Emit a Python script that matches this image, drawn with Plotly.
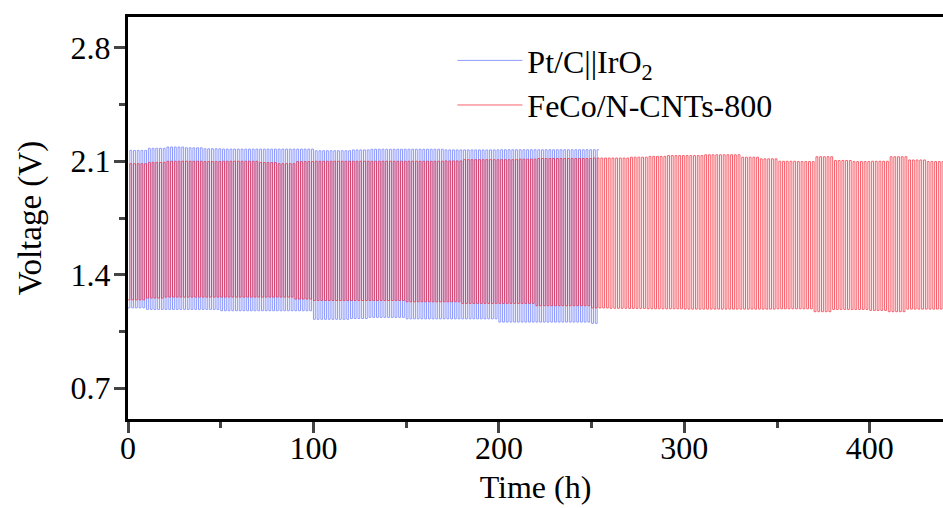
import plotly.graph_objects as go

# ---- data (per 10 h block, 2 h charge/discharge cycles) ----
series_names = ["Pt/C||IrO<sub>2</sub>", "FeCo/N-CNTs-800"]
block_hours = 10.0
cycle_hours = 2.0

# Pt/C||IrO2 : 0 - 254 h
pt_end_time = 254.0
pt_charge = [2.167, 2.180, 2.188, 2.183, 2.177, 2.175, 2.175, 2.175, 2.175, 2.175,
             2.165, 2.165, 2.170, 2.174, 2.174, 2.174, 2.174, 2.170, 2.170, 2.170,
             2.171, 2.171, 2.171, 2.171, 2.171, 2.171]
pt_discharge = [1.196, 1.186, 1.186, 1.186, 1.186, 1.178, 1.178, 1.178, 1.178, 1.178,
                1.125, 1.125, 1.130, 1.137, 1.137, 1.128, 1.128, 1.128, 1.128, 1.128,
                1.108, 1.108, 1.108, 1.108, 1.108, 1.100]

# FeCo/N-CNTs-800 : 0 - 440 h
feco_end_time = 440.0
feco_charge = [2.085, 2.093, 2.100, 2.100, 2.098, 2.100, 2.100, 2.092, 2.085, 2.098,
               2.100, 2.100, 2.100, 2.100, 2.100, 2.100, 2.100, 2.102, 2.110, 2.110,
               2.110, 2.113, 2.117, 2.117, 2.117, 2.120, 2.120, 2.125, 2.130, 2.135,
               2.135, 2.140, 2.140, 2.125, 2.115, 2.100, 2.098, 2.128, 2.105, 2.098,
               2.100, 2.128, 2.108, 2.098]
feco_discharge = [1.245, 1.256, 1.262, 1.262, 1.262, 1.262, 1.262, 1.262, 1.262, 1.250,
                  1.241, 1.241, 1.241, 1.241, 1.241, 1.233, 1.233, 1.233, 1.223, 1.223,
                  1.223, 1.223, 1.209, 1.209, 1.209, 1.195, 1.193, 1.192, 1.190, 1.190,
                  1.188, 1.188, 1.188, 1.188, 1.188, 1.190, 1.190, 1.172, 1.186, 1.186,
                  1.180, 1.172, 1.188, 1.188]

x_ticks = [0, 100, 200, 300, 400]
y_ticks = [0.7, 1.4, 2.1, 2.8]
y_tick_text = ["0.7", "1.4", "2.1", "2.8"]


def cycles(charge, discharge, t_end):
    xs, ys = [], []
    t = 0.0
    half = cycle_hours / 2
    while t < t_end - 1e-9:
        b = min(int(t // block_hours), len(charge) - 1)
        xs += [t, t + half, t + half, t + cycle_hours]
        ys += [discharge[b], discharge[b], charge[b], charge[b]]
        t += cycle_hours
    return xs, ys


pt_x, pt_y = cycles(pt_charge, pt_discharge, pt_end_time)
fe_x, fe_y = cycles(feco_charge, feco_discharge, feco_end_time)

font = "Liberation Serif, Times New Roman, serif"

fig = go.Figure()
fig.add_trace(go.Scatter(x=pt_x, y=pt_y, mode="lines", name=series_names[0],
                         line=dict(color="rgb(80,100,255)", width=1), opacity=0.65))
fig.add_trace(go.Scatter(x=fe_x, y=fe_y, mode="lines", name=series_names[1],
                         line=dict(color="rgb(245,35,50)", width=1), opacity=0.72))

fig.update_layout(
    width=943, height=508,
    margin=dict(l=128, r=0, t=17, b=89),
    plot_bgcolor="white", paper_bgcolor="white",
    font=dict(family=font, size=32, color="black"),
    showlegend=True,
    legend=dict(x=0.398, y=0.96, xanchor="left", yanchor="top",
                bgcolor="rgba(0,0,0,0)", font=dict(size=32, family=font),
                itemwidth=65, tracegroupgap=0),
    xaxis=dict(range=[0, 439.5], tickvals=x_ticks, ticks="outside", ticklen=11, tickwidth=3,
               showline=True, linewidth=3, linecolor="black", mirror=True,
               showgrid=False, zeroline=False, ticklabelstandoff=-12,
               minor=dict(ticks="outside", ticklen=6, tickwidth=3, dtick=50, tick0=0),
               title=dict(text="Time (h)", font=dict(size=32), standoff=11),
               automargin=False, tickfont=dict(size=32)),
    yaxis=dict(range=[0.51, 2.99], tickvals=y_ticks, ticktext=y_tick_text,
               ticks="outside", ticklen=11, tickwidth=3,
               showline=True, linewidth=3, linecolor="black", mirror=False,
               showgrid=False, zeroline=False, ticklabelstandoff=-3,
               minor=dict(ticks="outside", ticklen=6, tickwidth=3, dtick=0.35, tick0=0.35),
               title=dict(text="Voltage (V)", font=dict(size=33), standoff=20),
               automargin=False, tickfont=dict(size=32)),
)

fig.write_html("out.html")
